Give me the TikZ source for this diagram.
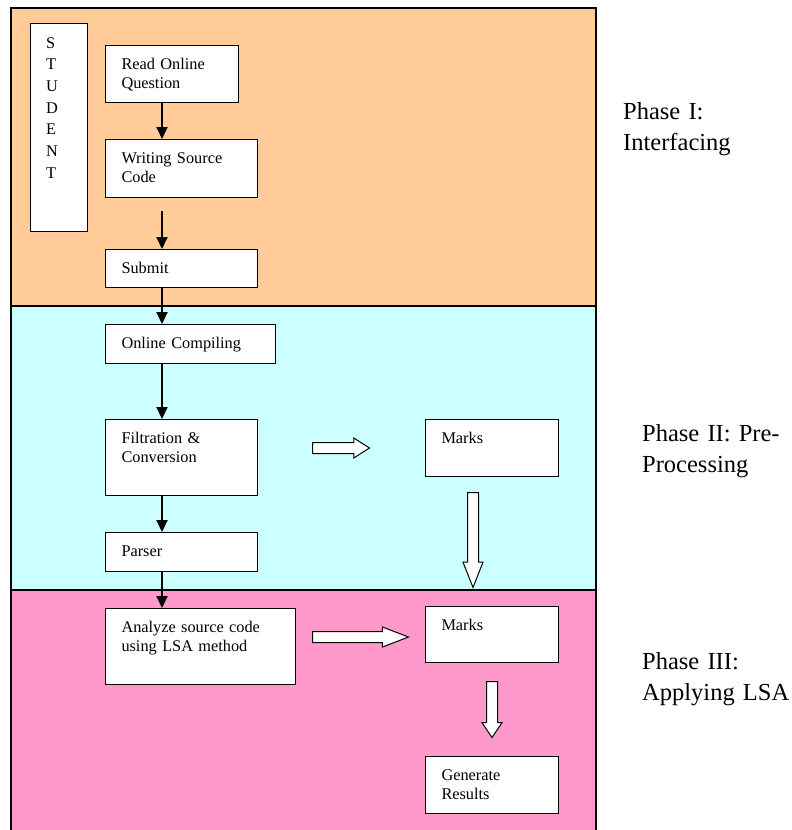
\documentclass[tikz,border=0pt]{standalone}
\usepackage{fontspec}
\setmainfont{Liberation Serif}
\usetikzlibrary{arrows.meta,positioning,shapes.arrows}
\definecolor{phaseOrange}{HTML}{FFCC99}
\definecolor{phaseCyan}{HTML}{CCFFFF}
\definecolor{phasePink}{HTML}{FF99CC}
\newcommand\boxfont{\fontsize{16.3}{19.5}\selectfont}
\newcommand\phasefont{\fontsize{24.5}{31}\selectfont}

\begin{document}
\begin{tikzpicture}[
          x=1pt, y=-1pt,
          band/.style={draw, line width=1.1pt},
          box/.style={rectangle, draw, fill=white, line width=1pt, anchor=north west,
                      inner xsep=16.5pt, inner ysep=0pt, outer sep=0pt, align=left,
                      font=\boxfont, text height=24pt},
          phase/.style={anchor=base west, align=left, font=\phasefont, text width=160pt, inner sep=0pt},
          flow/.style={line width=2pt, -{Triangle[length=12pt,width=11pt]}},
          hollow/.style={single arrow, draw, fill=white, line width=1pt, inner xsep=0pt,
                         inner ysep=5pt, single arrow head extend=4.5pt, anchor=tail, rotate=#1},
          hollow/.default=0
        ]
        \useasboundingbox (0,0) rectangle (792,830);
        % the three phases
        \fill[phaseOrange] (11,8) rectangle (596,306);
        \fill[phaseCyan] (11,306) rectangle (596,590);
        \fill[phasePink] (11,590) rectangle (596,840);
        \draw[band] (11,840) -- (11,8) -- (596,8) -- (596,840);
        \draw[band] (11,306) -- (596,306);
        \draw[band] (11,590) -- (596,590);

        \node[phase] (p1) at (623,119) {Phase I:\\Interfacing};
        \node[phase] (p2) at (642,441) {Phase II: Pre-\\Processing};
        \node[phase] (p3) at (642,669) {Phase III:\\Applying LSA};

        % phase I
        \node[box, font=\fontsize{16.3}{21.7}\selectfont, inner xsep=16pt, text height=25pt,
              text width=25pt, text depth=183pt] (stud) at (30,23) {S\\T\\U\\D\\E\\N\\T};
        \node[box, text width=100pt, text depth=33pt] (read) at (105,45) {Read Online\\Question};
        \node[box, text width=119pt, text depth=34pt] (write) at (105,139) {Writing Source\\Code};
        \node[box, text width=119pt, text depth=14pt] (submit) at (105,249) {Submit};

        % phase II
        \node[box, text width=137pt, text depth=15pt] (compile) at (105,324) {Online Compiling};
        \node[box, text width=119pt, text depth=52pt] (filter) at (105,419) {Filtration \&\\Conversion};
        \node[box, text width=119pt, text depth=15pt] (parser) at (105,532) {Parser};
        \node[box, text width=100pt, text depth=33pt] (marksa) at (425,419) {Marks};

        % phase III
        \node[box, text width=157pt, text depth=52pt] (lsa) at (105,608) {Analyze source code\\using LSA method};
        \node[box, text width=100pt, text depth=32pt] (marksb) at (425,606) {Marks};
        \node[box, text width=100pt, text depth=33pt] (result) at (425,756) {Generate\\Results};

        \coordinate (spine) at (162,0);
        \coordinate (gap) at (162,211);
        \draw[flow] (read.south -| spine) -- (write.north -| spine);
        \draw[flow] (gap) -- (submit.north -| spine);
        \draw[flow] (submit.south -| spine) -- (compile.north -| spine);
        \draw[flow] (compile.south -| spine) -- (filter.north -| spine);
        \draw[flow] (filter.south -| spine) -- (parser.north -| spine);
        \draw[flow] (parser.south -| spine) -- (lsa.north -| spine);

        \node[hollow, minimum height=57pt, single arrow tip angle=65] (ha) at (312,448) {};
        \node[hollow=-90, minimum height=95pt, single arrow tip angle=43] (hb) at (473,492) {};
        \node[hollow, minimum height=96pt, single arrow tip angle=42] (hc) at (312,637) {};
        \node[hollow=-90, minimum height=56pt, single arrow tip angle=68] (hd) at (492,681) {};
      \end{tikzpicture}
\end{document}
